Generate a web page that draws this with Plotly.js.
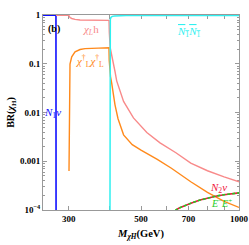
<!DOCTYPE html>
<html>
<head>
<meta charset="utf-8">
<script src="https://cdn.plot.ly/plotly-3.0.1.min.js"></script>
<style>html,body{margin:0;padding:0;background:#fff;}#chart{width:249px;height:245px;}</style>
</head>
<body>
<div id="chart"></div>
<script>
// Branching ratios of chi_H versus its mass (GeV)
const massN1nu = [250, 274, 274.3];
const brN1nu   = [1, 1, 1e-6];

const massChiLh = [274, 300, 301.2, 302.6, 306.3, 313.6, 324.9, 336.5, 360, 398.8, 399.6, 400.3, 402, 405, 411, 416, 421, 430, 442, 474, 521, 572, 640, 711, 800, 900, 1000];
const brChiLh   = [1, 1, 0.95, 0.9, 0.86, 0.823, 0.80, 0.795, 0.79, 0.785, 0.45, 0.29, 0.22, 0.17, 0.11, 0.07, 0.045, 0.028, 0.017, 0.0078, 0.0039, 0.0024, 0.0015, 0.00092, 0.00064, 0.00048, 0.00038];

const massChiChi = [300.5, 300.8, 301.2, 302.6, 306.3, 313.6, 324.9, 336.5, 370, 398.5, 399.3, 401, 403, 406.5, 411, 416, 425, 442, 470, 500, 561, 620, 711, 800, 900, 1000];
const brChiChi   = [6.3e-4, 0.005, 0.05, 0.10, 0.14, 0.177, 0.198, 0.207, 0.212, 0.215, 0.12, 0.075, 0.055, 0.04, 0.024, 0.0145, 0.0075, 0.0035, 0.0022, 0.0017, 0.0011, 0.00072, 0.00038, 0.00023, 0.00015, 0.000113];

const massN1N1 = [401, 401.5, 402.5, 404, 408, 415, 450, 600, 1000];
const brN1N1   = [1e-6, 0.6, 0.82, 0.9, 0.95, 0.97, 0.985, 0.99, 0.992];

const massN2nu = [630, 640, 655, 675, 715, 759, 800, 854, 900, 1000];
const brN2nu   = [6e-5, 1e-4, 1.1e-4, 1.21e-4, 1.4e-4, 1.6e-4, 1.75e-4, 1.94e-4, 2.06e-4, 2.25e-4];

const massEE = [630, 640, 655, 675, 715, 759, 800, 854, 900, 1000];
const brEE   = [6e-5, 1e-4, 1.1e-4, 1.21e-4, 1.4e-4, 1.6e-4, 1.75e-4, 1.94e-4, 2.06e-4, 2.25e-4];

const xTickVals = [300, 500, 700, 1000];
const xTickText = ['300', '500', '700', '1000'];
const xMinorVals = [400, 600, 800, 900];
const yTickVals = [1e-4, 1e-3, 1e-2, 1e-1, 1];
const yTickText = ['10<sup>−4</sup>', '0.001', '0.01', '0.1', '1'];

const cBlue = '#1010ff', cPink = '#f88a8a', cOrange = '#ff8a1c', cCyan = '#30f0f0', cRed = '#f0143c', cGreen = '#22cc22';

const yMinor = [];
for (let e = -4; e < 0; e++) for (let d = 2; d <= 9; d++) yMinor.push(d * Math.pow(10, e));

const traces = [
  {x: massN1nu, y: brN1nu, mode: 'lines', line: {color: cBlue, width: 1.6}},
  {x: massChiLh, y: brChiLh, mode: 'lines', line: {color: cPink, width: 1.4}},
  {x: massChiChi, y: brChiChi, mode: 'lines', line: {color: cOrange, width: 1.4}},
  {x: massN1N1, y: brN1N1, mode: 'lines', line: {color: cCyan, width: 1.5}},
  {x: massN2nu, y: brN2nu, mode: 'lines', line: {color: cRed, width: 1.6}},
  {x: massEE, y: brEE, mode: 'lines', line: {color: cGreen, width: 1.6, dash: '3px,2px'}}
];

const serif = 'Liberation Serif, Times New Roman, serif';
function label(text, x, y, color, size) {
  return {text: text, x: x, y: y, xref: 'paper', yref: 'paper', xanchor: 'center', yanchor: 'middle',
          showarrow: false, font: {family: serif, size: size, color: color}};
}
const layout = {
  width: 249, height: 245,
  margin: {l: 43, r: 10, t: 15, b: 35},
  paper_bgcolor: '#fff', plot_bgcolor: '#fff',
  showlegend: false,
  font: {family: serif, size: 9, color: '#000'},
  xaxis: {
    type: 'log', range: [Math.log10(250), 3],
    tickmode: 'array', tickvals: xTickVals, ticktext: xTickText,
    minor: {tickmode: 'array', tickvals: xMinorVals, ticks: 'inside', ticklen: 4, tickcolor: '#999'},
    ticks: 'inside', ticklen: 4, tickcolor: '#999', tickwidth: 1,
    showline: true, linecolor: '#999', linewidth: 1, mirror: 'ticks', layer: 'below traces',
    showgrid: false, zeroline: false,
    tickfont: {family: serif, size: 9, color: '#000', weight: 'bold'},
    title: {text: '<i>M</i><sub><i>χH</i></sub>(GeV)', font: {family: serif, size: 10.5, color: '#000', weight: 'bold'}, standoff: 6}
  },
  yaxis: {
    type: 'log', range: [-4, 0.006],
    tickmode: 'array', tickvals: yTickVals, ticktext: yTickText,
    ticks: 'inside', ticklen: 4, tickcolor: '#999', tickwidth: 1,
    minor: {tickmode: 'array', tickvals: yMinor, ticks: 'inside', ticklen: 2, tickcolor: '#999'},
    showline: true, linecolor: '#999', linewidth: 1, mirror: 'ticks', layer: 'below traces',
    showgrid: false, zeroline: false,
    tickfont: {family: serif, size: 9, color: '#000', weight: 'bold'},
    title: {text: 'BR(<i>χ</i><sub>H</sub>)', font: {family: serif, size: 10, color: '#000', weight: 'bold'}, standoff: 3}
  },
  annotations: [
    label('<b>(b)</b>', 0.056, 0.93, '#000', 10),
    label('<i>χ<sub>L</sub></i>h', 0.245, 0.922, cPink, 11),
    label('<i>χ</i><sup>†</sup><sub>L</sub><i>χ</i><sup>†</sup><sub>L</sub>', 0.24, 0.765, cOrange, 11),
    label('<i>N</i><sub>1</sub><i>ν</i>', 0.05, 0.5, cBlue, 11),
    label('<span style="text-decoration:overline"><i>N</i><sub>1</sub></span><span style="text-decoration:overline"><i>N</i><sub>1</sub></span>', 0.745, 0.915, cCyan, 11),
    label('<i>N</i><sub>2</sub><i>ν</i>', 0.893, 0.115, cRed, 11),
    label('<i>E</i><sup>−</sup><i>E</i><sup>+</sup>', 0.913, 0.035, cGreen, 10)
  ]
};

Plotly.newPlot('chart', traces, layout, {displayModeBar: false, staticPlot: true});
</script>
</body>
</html>
